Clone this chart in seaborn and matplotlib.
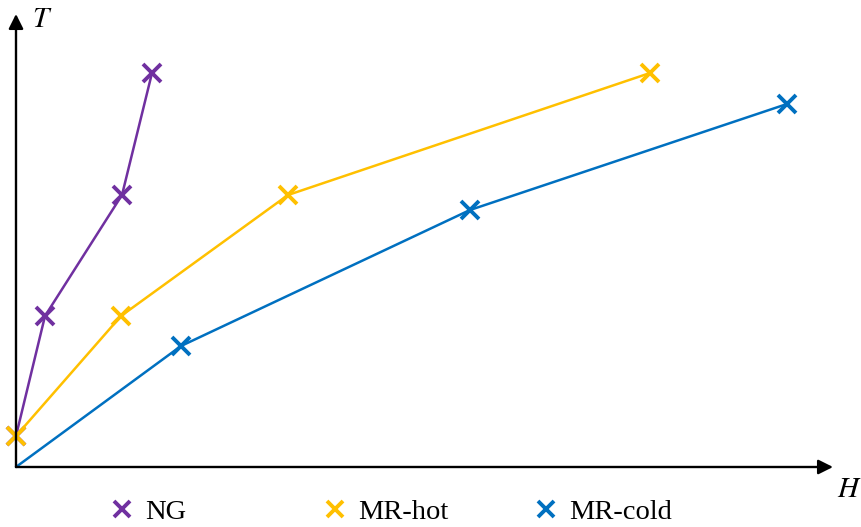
import matplotlib
matplotlib.use("Agg")
import matplotlib.pyplot as plt
from matplotlib.lines import Line2D
import seaborn as sns
import pandas as pd

# Data (arbitrary H / T units)
ng_h = [0.0, 2.9, 10.6, 13.6]
ng_t = [3.1, 15.1, 27.2, 39.4]
hot_h = [0.0, 10.5, 27.2, 63.4]
hot_t = [3.1, 15.1, 27.2, 39.4]
cold_h = [0.0, 16.5, 45.4, 77.1]
cold_t = [0.0, 12.1, 25.7, 36.3]
series = ["NG", "MR-hot", "MR-cold"]
colors = ["#7030A0", "#FFC000", "#0070C0"]

df = pd.concat([
    pd.DataFrame({"H": ng_h, "T": ng_t, "series": series[0]}),
    pd.DataFrame({"H": hot_h, "T": hot_t, "series": series[1]}),
    pd.DataFrame({"H": cold_h, "T": cold_t, "series": series[2]}),
], ignore_index=True)

sns.set_style("white")
plt.rcParams["font.family"] = ["Liberation Serif", "DejaVu Serif"]
plt.rcParams["mathtext.fontset"] = "stix"
plt.rcParams["text.color"] = "black"

fig = plt.figure(figsize=(8.61, 5.27), dpi=100)
ax = fig.add_axes([16 / 861, 60 / 527, 817 / 861, 453 / 527])

sns.lineplot(data=df, x="H", y="T", hue="series", palette=colors, sort=False,
             marker="x", markersize=13, markeredgewidth=2.8, linewidth=1.8,
             legend=False, ax=ax, zorder=3)
for line in ax.lines:
    line.set_markeredgecolor(line.get_color())
    line.set_markerfacecolor(line.get_color())
    line.set_clip_on(False)
# MR-cold starts at the origin without a marker
ax.lines[2].set_markevery([1, 2, 3])

ax.set_xlim(0, 81.7)
ax.set_ylim(0, 45.3)
ax.set_xticks([])
ax.set_yticks([])
ax.set_xlabel("")
ax.set_ylabel("")
for s in ax.spines.values():
    s.set_visible(False)

arrow = dict(arrowstyle="-|>", color="black", lw=1.7, mutation_scale=22,
             shrinkA=0, shrinkB=0)
ax.annotate("", xy=(1.0, 0), xytext=(0, 0), xycoords="axes fraction",
            arrowprops=arrow, annotation_clip=False)
ax.annotate("", xy=(0, 1.0), xytext=(0, 0), xycoords="axes fraction",
            arrowprops=arrow, annotation_clip=False)

fig.text(32 / 861, 1 - 20 / 527, "$T$", fontsize=21, va="center", ha="left")
fig.text(837 / 861, 1 - 490 / 527, "$H$", fontsize=21, va="center", ha="left")

# Legend: three entries at fixed positions
marker_x = [122, 335, 546]
for name, c, mx in zip(series, colors, marker_x):
    h = Line2D([], [], color=c, marker="x", linestyle="none",
               markersize=12, markeredgewidth=2.8)
    fig.legend(handles=[h], labels=[name], loc="center left",
               bbox_to_anchor=((mx - 17) / 861, 1 - 512 / 527),
               frameon=False, fontsize=20.5, handlelength=1.2,
               handletextpad=0.22, borderpad=0, borderaxespad=0,
               labelcolor="black")

fig.savefig("out.png", dpi=100)
